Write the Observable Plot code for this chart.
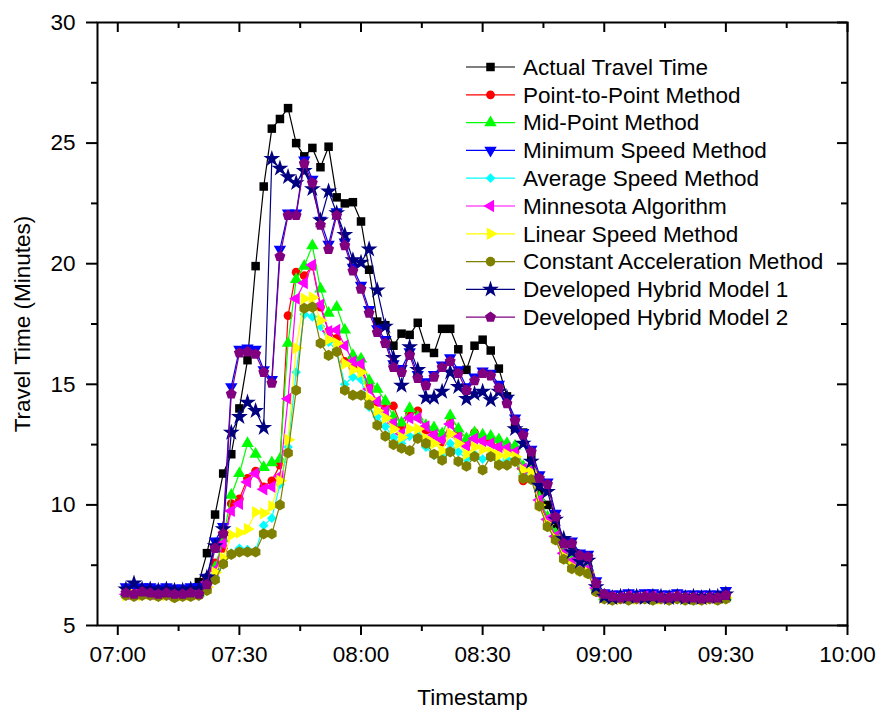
<!DOCTYPE html>
<html><head><meta charset="utf-8">
<script src="https://cdn.jsdelivr.net/npm/d3@7"></script>
<script src="https://cdn.jsdelivr.net/npm/@observablehq/plot@0.6"></script>
<style>
body{margin:0;background:#fff;}
#wrap{position:relative;width:880px;height:710px;font-family:Arial,"Liberation Sans",sans-serif;}
#legend{position:absolute;left:0;top:0;pointer-events:none;}
</style></head><body><div id="wrap"></div>
<script>
const times = [
"07:02","07:04","07:06","07:08","07:10","07:12","07:14","07:16","07:18","07:20",
"07:22","07:24","07:26","07:28","07:30","07:32","07:34","07:36","07:38","07:40",
"07:42","07:44","07:46","07:48","07:50","07:52","07:54","07:56","07:58","08:00",
"08:02","08:04","08:06","08:08","08:10","08:12","08:14","08:16","08:18","08:20",
"08:22","08:24","08:26","08:28","08:30","08:32","08:34","08:36","08:38","08:40",
"08:42","08:44","08:46","08:48","08:50","08:52","08:54","08:56","08:58","09:00",
"09:02","09:04","09:06","09:08","09:10","09:12","09:14","09:16","09:18","09:20",
"09:22","09:24","09:26","09:28","09:30"];

const actualTravelTime = [
6.4,6.45,6.4,6.45,6.45,6.4,6.35,6.4,6.5,6.8,
8.0,9.6,11.3,12.1,14.0,16.0,19.9,23.2,25.6,26.0,
26.45,25.0,24.45,24.8,24.0,24.85,22.75,22.5,22.55,21.75,
19.75,17.6,17.45,16.6,17.1,17.05,17.55,16.5,16.3,17.3,
17.3,16.45,15.6,16.6,16.85,16.4,15.65,14.5,13.2,13.0,
12.0,10.5,10.0,9.2,8.4,8.35,7.8,7.8,6.5,6.2,
6.15,6.2,6.2,6.25,6.2,6.25,6.2,6.2,6.2,6.2,
6.25,6.2,6.2,6.2,6.25];
const pointToPoint = [
6.3,6.35,6.3,6.35,6.3,6.3,6.25,6.3,6.3,6.4,
7.0,7.6,8.2,10.05,10.25,11.1,11.4,10.75,11.0,11.65,
17.85,19.65,19.5,19.9,18.2,17.2,16.9,15.95,15.7,15.6,
14.9,14.25,14.0,14.1,13.25,13.8,13.9,13.1,12.9,12.6,
13.4,12.9,12.5,13.0,12.7,12.6,12.4,12.35,12.2,11.0,
11.4,10.1,9.3,8.6,7.9,7.6,7.4,7.3,6.5,6.2,
6.15,6.1,6.15,6.15,6.2,6.15,6.15,6.15,6.2,6.15,
6.15,6.1,6.15,6.15,6.2];
const midPoint = [
6.35,6.3,6.4,6.35,6.3,6.35,6.3,6.3,6.3,6.35,
6.7,7.4,8.6,10.4,11.3,12.55,12.1,11.55,11.75,11.9,
16.7,19.35,19.9,20.75,18.95,17.95,18.2,17.25,16.2,16.05,
15.15,14.8,14.3,13.65,13.4,14.0,13.65,13.3,13.2,12.95,
13.7,13.15,12.75,13.0,12.9,12.85,12.7,12.55,12.45,11.6,
11.6,10.3,9.5,8.8,8.1,7.7,7.5,7.4,6.6,6.2,
6.15,6.1,6.15,6.15,6.2,6.15,6.15,6.15,6.2,6.15,
6.15,6.1,6.15,6.15,6.2];
const minimumSpeed = [
6.6,6.55,6.6,6.6,6.55,6.6,6.55,6.55,6.6,6.6,
7.0,8.5,9.1,14.9,16.45,16.5,16.45,15.6,15.2,20.6,
22.1,22.1,24.3,23.5,21.8,20.8,22.15,20.9,19.85,19.1,
18.1,17.3,16.85,15.85,15.65,16.35,15.4,15.1,15.4,15.8,
16.1,15.6,14.9,15.3,15.55,15.45,15.0,14.35,13.6,13.0,
12.3,11.25,10.95,9.65,8.5,8.5,8.0,7.95,6.85,6.35,
6.3,6.3,6.35,6.3,6.35,6.35,6.3,6.3,6.35,6.3,
6.3,6.3,6.3,6.3,6.45];
const averageSpeed = [
6.3,6.25,6.3,6.3,6.25,6.3,6.2,6.25,6.3,6.3,
6.5,7.0,7.55,8.0,8.2,8.15,8.1,9.15,9.45,10.85,
12.4,15.5,17.9,17.8,17.4,16.75,16.4,15.0,15.3,15.2,
14.05,13.65,13.25,12.8,12.55,12.85,12.9,12.4,12.05,12.0,
12.55,12.2,11.9,12.1,11.9,12.0,11.75,11.9,11.9,11.3,
11.2,9.95,9.2,8.6,7.85,7.45,7.3,7.2,6.45,6.15,
6.1,6.1,6.1,6.15,6.1,6.1,6.15,6.1,6.1,6.1,
6.1,6.1,6.1,6.1,6.15];
const minnesota = [
6.3,6.3,6.35,6.3,6.3,6.3,6.25,6.3,6.3,6.35,
6.8,7.3,8.4,9.75,10.05,10.95,11.3,10.65,10.75,11.2,
14.4,18.55,19.2,19.95,18.3,17.2,17.25,16.6,15.95,15.85,
14.8,14.3,13.9,13.4,12.95,13.6,13.6,13.25,12.9,12.7,
13.35,12.8,12.45,12.75,12.65,12.55,12.4,12.35,12.2,11.5,
11.45,10.2,9.4,8.7,8.0,7.65,7.45,7.35,6.55,6.2,
6.15,6.15,6.2,6.15,6.2,6.2,6.15,6.15,6.2,6.15,
6.15,6.15,6.15,6.15,6.2];
const linearSpeed = [
6.25,6.3,6.25,6.3,6.25,6.25,6.2,6.25,6.25,6.3,
6.6,7.2,7.8,8.75,8.85,9.0,9.7,9.65,9.95,11.0,
12.7,16.5,18.55,18.6,17.65,16.85,16.7,15.85,15.6,15.5,
14.4,13.9,13.6,13.15,12.8,13.15,13.15,12.75,12.55,12.25,
12.95,12.55,12.1,12.4,12.3,12.2,12.05,12.1,12.0,11.45,
11.35,10.0,9.2,8.6,7.85,7.45,7.3,7.2,6.45,6.15,
6.1,6.1,6.15,6.1,6.15,6.1,6.1,6.1,6.15,6.1,
6.1,6.1,6.1,6.1,6.15];
const constantAcceleration = [
6.25,6.2,6.25,6.25,6.2,6.25,6.15,6.2,6.2,6.25,
6.45,6.9,7.55,7.95,8.05,8.05,8.05,8.8,8.8,10.0,
12.15,14.75,18.15,18.2,16.7,16.2,16.35,14.75,14.55,14.55,
14.15,13.3,12.85,12.5,12.35,12.25,12.75,12.55,12.1,11.85,
12.2,11.8,11.6,12.0,11.45,12.0,11.65,11.65,11.8,11.1,
11.05,9.95,9.1,8.55,7.75,7.35,7.25,7.15,6.4,6.1,
6.05,6.1,6.05,6.1,6.1,6.05,6.1,6.05,6.1,6.05,
6.05,6.05,6.1,6.05,6.1];
const hybridModel1 = [
6.5,6.75,6.5,6.5,6.45,6.5,6.45,6.45,6.5,6.5,
7.0,8.3,9.0,13.0,13.65,14.25,13.9,13.2,24.35,23.95,
23.6,23.35,23.85,23.1,21.8,23.0,22.1,21.2,20.15,20.05,
20.6,18.9,17.4,16.1,14.95,16.55,15.6,14.45,14.45,14.7,
15.5,14.9,14.4,14.6,14.7,14.35,14.7,14.45,13.15,12.55,
11.8,10.8,10.55,9.4,8.6,8.05,7.65,7.7,6.6,6.2,
6.15,6.2,6.2,6.2,6.15,6.2,6.2,6.15,6.2,6.15,
6.2,6.15,6.2,6.2,6.3];
const hybridModel2 = [
6.35,6.3,6.4,6.35,6.3,6.35,6.3,6.3,6.35,6.3,
6.7,8.2,8.8,14.6,16.3,16.35,16.25,15.5,15.05,20.3,
22.0,22.0,24.15,23.35,21.6,20.6,22.0,20.75,19.7,18.95,
17.95,17.15,16.7,15.7,15.5,16.2,15.25,14.95,15.3,15.7,
15.95,15.45,14.75,15.15,15.45,15.35,14.85,14.2,13.5,12.9,
12.2,11.1,10.85,9.5,8.4,8.4,7.9,7.85,6.75,6.3,
6.2,6.15,6.2,6.15,6.2,6.2,6.15,6.15,6.2,6.15,
6.15,6.1,6.15,6.15,6.25];

const seriesNames = ["Actual Travel Time","Point-to-Point Method","Mid-Point Method","Minimum Speed Method","Average Speed Method","Minnesota Algorithm","Linear Speed Method","Constant Acceleration Method","Developed Hybrid Model 1","Developed Hybrid Model 2"];
const seriesValues = [actualTravelTime,pointToPoint,midPoint,minimumSpeed,averageSpeed,minnesota,linearSpeed,constantAcceleration,hybridModel1,hybridModel2];
const xTickLabels = ["07:00","07:30","08:00","08:30","09:00","09:30","10:00"];
const xMinorTicks = ["07:15","07:45","08:15","08:45","09:15","09:45"];
const yTicks = [5,10,15,20,25,30];
const yMinorTicks = [7.5,12.5,17.5,22.5,27.5];
const xDomainLabels = ["06:55","10:00"];

const colors = ["#000000","#ff0000","#00ff00","#0000ff","#00ffff","#ff00ff","#ffff00","#808000","#000080","#800080"];
const pentagon = {draw(ctx, size){const R=Math.sqrt(size/2.378);for(let i=0;i<5;i++){const a=-Math.PI/2+i*2*Math.PI/5;const x=R*Math.cos(a),y=R*Math.sin(a);if(i)ctx.lineTo(x,y);else ctx.moveTo(x,y);}ctx.closePath();}};
const symbolNames = ["square","circle","triangle","triangle","diamond2","triangle","triangle","hexagon","star",pentagon];
const d3Symbols = [d3.symbolSquare,d3.symbolCircle,d3.symbolTriangle,d3.symbolTriangle,d3.symbolDiamond2,d3.symbolTriangle,d3.symbolTriangle,d3.symbolHexagon||d3.symbolCircle,d3.symbolStar,pentagon];
const rotations = [0,0,0,180,0,-90,90,0,0,0];
const radii = [4.8,4.4,4.6,4.6,4.4,4.6,4.6,4.8,5.3,5.0];

const parse = d3.timeParse("%H:%M");
const W=880,H=710,mL=97,mR=33,mT=22,mB=85;
const frameW=W-mL-mR, frameH=H-mT-mB;
const FONT='Arial,"Liberation Sans",sans-serif';

const marks=[];
seriesValues.forEach((vals,k)=>{
  const rows = times.map((t,i)=>({time:parse(t),value:vals[i]}));
  marks.push(Plot.line(rows,{x:"time",y:"value",stroke:colors[k],strokeWidth:1.2}));
  marks.push(Plot.dot(rows,{x:"time",y:"value",symbol:symbolNames[k],fill:colors[k],r:radii[k],rotate:rotations[k]}));
});
const majorX = xTickLabels.map(parse), minorX = xMinorTicks.map(parse);
marks.push(
  Plot.frame({stroke:"#000",strokeWidth:2}),
  Plot.axisX(majorX,{anchor:"bottom",tickSize:10,tickPadding:11,strokeWidth:2,tickFormat:d3.timeFormat("%H:%M"),fontSize:22.5,label:null}),
  Plot.axisX(minorX,{anchor:"bottom",tickSize:6,strokeWidth:2,tickFormat:()=>"",label:null}),
  Plot.tickX(majorX,{x:d=>d,insetBottom:frameH-10,strokeWidth:2}),
  Plot.tickX(minorX,{x:d=>d,insetBottom:frameH-6,strokeWidth:2}),
  Plot.axisY(yTicks,{anchor:"left",tickSize:11,tickPadding:11,strokeWidth:2,fontSize:22.5,label:null}),
  Plot.axisY(yMinorTicks,{anchor:"left",tickSize:6,strokeWidth:2,tickFormat:()=>"",label:null}),
  Plot.tickY(yTicks,{y:d=>d,insetLeft:frameW-10,strokeWidth:2}),
  Plot.tickY(yMinorTicks,{y:d=>d,insetLeft:frameW-6,strokeWidth:2}),
  Plot.text(["Travel Time (Minutes)"],{frameAnchor:"left",dx:-75,rotate:-90,fontSize:22.5,textAnchor:"middle"}),
  Plot.text(["Timestamp"],{frameAnchor:"bottom",dy:79,fontSize:22.5,textAnchor:"middle"})
);

const chart = Plot.plot({
  width:W,height:H,marginLeft:mL,marginRight:mR,marginTop:mT,marginBottom:mB,
  style:{fontFamily:FONT,fontSize:"22px",color:"#000",background:"#fff"},
  x:{type:"time",domain:xDomainLabels.map(parse)},
  y:{domain:[5,30]},
  marks
});
const wrap=document.getElementById("wrap");
wrap.appendChild(chart);

// legend overlay
const leg = d3.select(wrap).append("svg").attr("id","legend").attr("width",W).attr("height",H);
const lx0=466,lx1=515,ltx=523,ly0=67,lstep=27.8;
seriesNames.forEach((name,k)=>{
  const y=ly0+k*lstep;
  const g=leg.append("g");
  g.append("line").attr("x1",lx0).attr("x2",lx1).attr("y1",y).attr("y2",y).attr("stroke",colors[k]).attr("stroke-width",1.2);
  g.append("path").attr("d",d3.symbol(d3Symbols[k],Math.PI*radii[k]*radii[k])()).attr("fill",colors[k])
    .attr("transform",`translate(${(lx0+lx1)/2},${y}) rotate(${rotations[k]})`);
  g.append("text").attr("x",ltx).attr("y",y).attr("dy","0.35em").attr("font-size",22.5)
    .attr("font-family",FONT).attr("fill","#000").text(name);
});
</script></body></html>
